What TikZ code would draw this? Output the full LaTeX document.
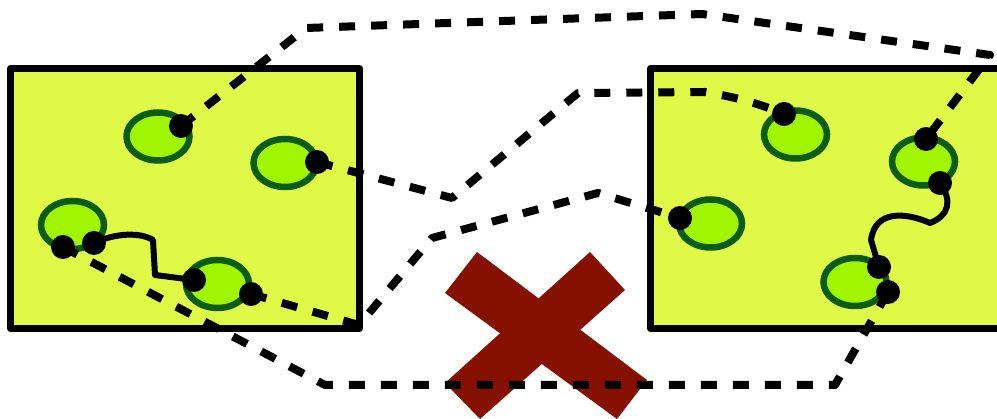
\documentclass[tikz,border=0pt]{standalone}
\usetikzlibrary{shapes.geometric}
\begin{document}
\begin{tikzpicture}[x=1pt,y=-1pt,
  panel/.style={draw=black,line width=7pt,fill=panelfill,line join=round},
  blob/.style={ellipse,draw=blobline,fill=blobfill,line width=6.5pt,minimum width=63pt,minimum height=48pt,inner sep=0pt},
  port/.style={circle,fill=black,minimum size=24pt,inner sep=0pt},
  link/.style={draw=black,line width=8pt,dash pattern=on 16pt off 16pt,line join=round},
  wire/.style={draw=black,line width=6pt,line join=round,line cap=round},
  cross/.style={fill=crossred,draw=none}]
\definecolor{panelfill}{RGB}{223,249,70}
\definecolor{blobfill}{RGB}{160,245,0}
\definecolor{blobline}{RGB}{12,92,20}
\definecolor{crossred}{RGB}{134,17,0}
\useasboundingbox (0,0) rectangle (997,419);
\clip (0,0) rectangle (997,419);

% two panels
\draw[panel] (10.5,68.5) rectangle (359.5,328.5);
\draw[panel] (650.5,68.5) rectangle (1010,328.5);

% blobs in the left panel
\node[blob] (e1) at (158,136.5) {};
\node[blob] (e2) at (285,163) {};
\node[blob] (e3) at (72.5,225) {};
\node[blob] (e4) at (217.5,284) {};
% blobs in the right panel
\node[blob] (f1) at (795.5,134.5) {};
\node[blob] (f2) at (923.5,161.5) {};
\node[blob] (f3) at (710.5,223.5) {};
\node[blob] (f4) at (855,282) {};

% red cross
\fill[cross] (477,252) -- (445,293) -- (617,419) -- (647,380) -- cycle;
\fill[cross] (590,252) -- (625,290) -- (480,419) -- (445,383) -- cycle;

% ports
\coordinate (d1) at (181,126);
\coordinate (d2) at (317,162);
\coordinate (d3) at (63,247);
\coordinate (d4) at (94,243);
\coordinate (d5) at (194,280);
\coordinate (d6) at (251,294);
\coordinate (r1) at (784,114);
\coordinate (r2) at (926,139);
\coordinate (r3) at (940,183);
\coordinate (r4) at (680,218);
\coordinate (r5) at (879,267);
\coordinate (r6) at (888,292);

% dashed links between the panels
\coordinate (a1) at (306,28);
\coordinate (a2) at (702,14);
\coordinate (a3) at (990,55);
\draw[link] (d1) -- (a1) -- (a2) -- (a3) -- (r2);

\coordinate (b1) at (452,198);
\coordinate (b2) at (578,93);
\coordinate (b3) at (705,92);
\draw[link] (d2) -- (b1) -- (b2) -- (b3) .. controls (740,98) and (760,104) .. (r1);

\coordinate (c1) at (359,325);
\coordinate (c2) at (432,238);
\coordinate (c3) at (598,193);
\draw[link] (d6) -- (c1) -- (c2) -- (c3) -- (r4);

\coordinate (g1) at (325,385);
\coordinate (g2) at (835,385);
\draw[link] (d3) -- (g1) -- (g2) -- (r6);

% solid wires inside the panels
\draw[wire] (d4) .. controls (115,233) and (140,232) .. (153,240) -- (155,275) -- (d5);
\draw[wire] (r3) .. controls (952,200) and (950,215) .. (930,223)
  .. controls (905,212) and (875,210) .. (871,240) -- (r5);

% port dots
\foreach \p in {d1,d2,d3,d4,d5,d6,r1,r2,r3,r4,r5,r6}
  \node[port] (dot-\p) at (\p) {};
\end{tikzpicture}
\end{document}
